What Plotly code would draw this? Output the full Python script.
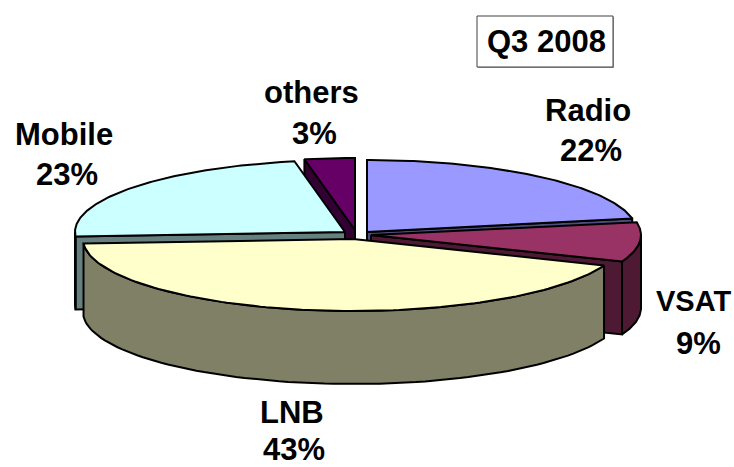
import numpy as np
import plotly.graph_objects as go

categories = ["Radio", "VSAT", "LNB", "Mobile", "others"]
shares = [22, 9, 43, 23, 3]
chart_title = "Q3 2008"

# pie geometry, in pixels of the page
RX, RY, DEPTH = 270, 72, 73
apexes = {
    "Radio": (367, 232),
    "VSAT": (371, 235),
    "LNB": (353, 239),
    "Mobile": (345, 232),
    "others": (355, 230),
}
top_colors = {"Radio": "#9999FF", "VSAT": "#993366", "LNB": "#FFFFCC", "Mobile": "#CCFFFF", "others": "#660066"}
wall_colors = {"Radio": "#4D4D80", "VSAT": "#4D1933", "LNB": "#808066", "Mobile": "#668080", "others": "#330033"}
label_pos = {
    "Radio": (588, 110, 591, 150),
    "VSAT": (693, 301, 698, 343),
    "LNB": (292, 412, 294, 449),
    "Mobile": (64, 134, 67, 174),
    "others": (311, 92, 314, 133),
}
draw_order = ["others", "Radio", "Mobile", "VSAT", "LNB"]
FONT = "Liberation Sans"
LABEL_SIZE = 31
VSAT_SIZE = 29  # no kerning here, so the name is set smaller to keep its width


def rim(name, t):
    cx, cy = apexes[name]
    return cx + RX * np.sin(t), cy - RY * np.cos(t)


def add_poly(fig, xs, ys, color):
    fig.add_trace(go.Scatter(x=xs, y=ys, mode="lines", fill="toself", fillcolor=color,
                             line=dict(color="black", width=2), hoverinfo="skip", showlegend=False))


# angles of each slice, clockwise from twelve o'clock
edges = np.cumsum([0] + shares) / sum(shares) * 2 * np.pi
angles = {c: (edges[i], edges[i + 1]) for i, c in enumerate(categories)}

fig = go.Figure()

for name in draw_order:
    t0, t1 = angles[name]
    cx, cy = apexes[name]

    # radial walls, only those that face the viewer
    for t, visible in ((t0, np.sin(t0) <= 1e-9), (t1, np.sin(t1) >= -1e-9)):
        if visible:
            px, py = rim(name, t)
            add_poly(fig, [cx, px, px, cx, cx], [cy, py, py + DEPTH, cy + DEPTH, cy], wall_colors[name])

    # outer wall, only the part facing the viewer
    a, b = max(t0, np.pi / 2), min(t1, 3 * np.pi / 2)
    if a < b:
        arc = np.linspace(a, b, 80)
        ax, ay = rim(name, arc)
        add_poly(fig, np.r_[ax, ax[::-1], ax[0]], np.r_[ay, ay[::-1] + DEPTH, ay[0]], wall_colors[name])

    # top face
    arc = np.linspace(t0, t1, 120)
    ax, ay = rim(name, arc)
    add_poly(fig, np.r_[cx, ax, cx], np.r_[cy, ay, cy], top_colors[name])

for name, share in zip(categories, shares):
    x1, y1, x2, y2 = label_pos[name]
    name_size = VSAT_SIZE if name == "VSAT" else LABEL_SIZE
    for txt, x, y, size in ((name, x1, y1, name_size), (f"{share}%", x2, y2, LABEL_SIZE)):
        fig.add_annotation(x=x, y=y, text=txt, showarrow=False, xref="x", yref="y",
                           font=dict(family=FONT, size=size, color="black", weight=700))

# title box with its thin shadow
fig.add_shape(type="rect", x0=478, y0=17, x1=614, y1=68, fillcolor="#A0A0A0", line=dict(width=0), layer="below")
fig.add_shape(type="rect", x0=477, y0=16, x1=613, y1=67, fillcolor="white", line=dict(color="#404040", width=1))
fig.add_annotation(x=546, y=41, text=chart_title, showarrow=False, xref="x", yref="y",
                   font=dict(family=FONT, size=LABEL_SIZE, color="black", weight=700))

fig.update_xaxes(range=[0, 734], visible=False, fixedrange=True)
fig.update_yaxes(range=[467, 0], visible=False, fixedrange=True)
fig.update_layout(width=734, height=467, margin=dict(l=0, r=0, t=0, b=0),
                  paper_bgcolor="white", plot_bgcolor="white")

# drop the browser's default body margin so the figure fills the window
fig.write_html("out.html", config={"displayModeBar": False},
               post_script="document.body.style.margin = '0';")
